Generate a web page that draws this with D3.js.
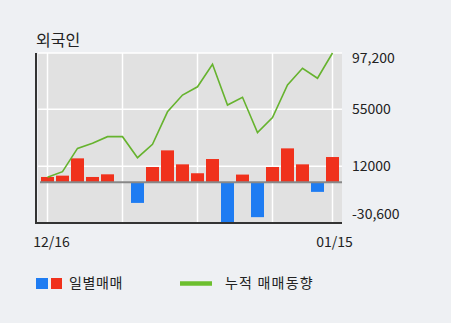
<!DOCTYPE html>
<html><head><meta charset="utf-8">
<script src="https://cdn.jsdelivr.net/npm/d3@7"></script>
<style>
html,body{margin:0;padding:0;background:#eef0f3;}
svg{display:block;}
text{font-family:"Noto Sans CJK KR","DejaVu Sans",sans-serif;fill:#222;}
</style></head>
<body>
<svg id="c" width="451" height="323"></svg>
<script>
const days = ["12/16","12/17","12/18","12/19","12/20","12/23","12/24","12/26","12/27","12/30","01/02","01/03","01/06","01/07","01/08","01/09","01/10","01/13","01/14","01/15"];
const daily = [4000,5000,18000,4000,6000,0,-15500,11500,24000,13500,6800,17500,-30600,5800,-26200,11500,25500,13500,-7200,19000];
const cumulative = [3800,8000,25500,29300,34300,34300,18500,28600,53000,65600,71800,88700,58100,63900,37300,48600,73200,85700,78200,97200];
const tickValues = [-30600,12000,55000,97200];
const tickLabels = ["-30,600","12000","55000","97,200"];
const xLabels = [{i:0,t:"12/16"},{i:19,t:"01/15"}];
const vGridIdx = [0,5,10,15,19];
const title = "외국인";
const legendBar = "일별매매";
const legendLine = "누적 매매동향";

const svg = d3.select("#c");
const L = 38, R = 342, T = 53, B = 223;
const x = d3.scalePoint().domain(d3.range(days.length)).range([47.5, 332.5]);
const y = d3.scaleLinear().domain([-30600, 97200]).range([B, T]);
const bw = 13;

svg.append("text").attr("x",36).attr("y",46).attr("font-size",16).attr("fill","#111").text(title);

svg.append("rect").attr("x",L).attr("y",T).attr("width",R-L).attr("height",B-T).attr("fill","#e1e1e1");

// grid
svg.selectAll(".hg").data(tickValues.slice(1)).enter().append("line")
  .attr("x1",L).attr("x2",R).attr("y1",d=>y(d)).attr("y2",d=>y(d))
  .attr("stroke","#fff").attr("stroke-width",1.5);
svg.selectAll(".vg").data(vGridIdx).enter().append("line")
  .attr("x1",d=>x(d)).attr("x2",d=>x(d)).attr("y1",T).attr("y2",B)
  .attr("stroke","#fff").attr("stroke-width",1.5);

// bars
svg.selectAll(".bar").data(daily).enter().append("rect")
  .attr("x",(d,i)=>x(i)-bw/2).attr("width",bw)
  .attr("y",d=>d>=0?y(d):y(0)).attr("height",d=>Math.abs(y(d)-y(0)))
  .attr("fill",d=>d>=0?"#f0311c":"#1e7cf2");

// zero line
svg.append("line").attr("x1",40).attr("x2",R).attr("y1",y(0)).attr("y2",y(0))
  .attr("stroke","#888").attr("stroke-width",2);

// cumulative line
const line = d3.line().x((d,i)=>x(i)).y(d=>y(d));
svg.append("path").datum(cumulative).attr("d",line).attr("fill","none")
  .attr("stroke","#66b32e").attr("stroke-width",1.6);

// axes lines
svg.append("line").attr("x1",36).attr("x2",36).attr("y1",T).attr("y2",B+1)
  .attr("stroke","#333").attr("stroke-width",2);
svg.append("line").attr("x1",35).attr("x2",R).attr("y1",B).attr("y2",B)
  .attr("stroke","#333").attr("stroke-width",2);

// y labels
const yLabelPos = [214,166,109,58];
svg.selectAll(".yl").data(tickLabels).enter().append("text")
  .attr("x",352).attr("y",(d,i)=>yLabelPos[i]).attr("dy","0.35em")
  .attr("font-size",14).attr("fill","#222").text(d=>d);

// x labels
svg.selectAll(".xl").data(xLabels).enter().append("text")
  .attr("x",d=>x(d.i)+(d.i===0?4:2)).attr("y",242).attr("dy","0.35em").attr("text-anchor","middle")
  .attr("font-size",14).attr("fill","#222").text(d=>d.t);

// legend
svg.append("rect").attr("x",36).attr("y",278).attr("width",12).attr("height",11).attr("fill","#1e7cf2");
svg.append("rect").attr("x",51).attr("y",278).attr("width",11).attr("height",11).attr("fill","#f0311c");
svg.append("text").attr("x",69).attr("y",283.5).attr("dy","0.35em").attr("font-size",14)
  .attr("letter-spacing",0.6).text(legendBar);
svg.append("line").attr("x1",180).attr("x2",212).attr("y1",283.5).attr("y2",283.5)
  .attr("stroke","#6cbf2e").attr("stroke-width",4.5);
svg.append("text").attr("x",225).attr("y",283.5).attr("dy","0.35em").attr("font-size",14)
  .attr("letter-spacing",1.2).text(legendLine);
</script>
</body></html>
